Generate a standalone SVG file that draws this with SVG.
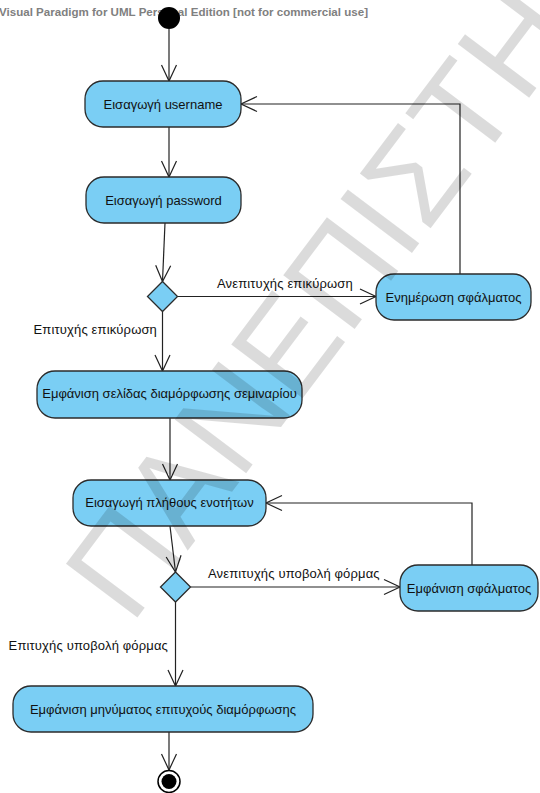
<svg xmlns="http://www.w3.org/2000/svg" width="540" height="793" viewBox="0 0 540 793">
<defs>
<style>
.node rect, .node path.dia {fill:#7ACEF4; stroke:#2b2b2b; stroke-width:1.3}
.lbl {font-family:"Liberation Sans", Arial, sans-serif; font-size:13px; fill:#111}
.elbl {font-family:"Liberation Sans", Arial, sans-serif; font-size:13px; fill:#111; letter-spacing:0.15px}
.edge {stroke:#222; stroke-width:1.2; fill:none; marker-end:url(#arr)}
.wm {font-family:"Liberation Sans", Arial, sans-serif; font-size:130px; fill:#000; fill-opacity:0.14}
</style>
<marker id="arr" markerUnits="userSpaceOnUse" viewBox="-18 -9 20 18" refX="0" refY="0" markerWidth="20" markerHeight="18" orient="auto">
<path d="M-16,-7.5 L0,0 L-16,7.5" fill="none" stroke="#222" stroke-width="1.2"/>
</marker>
</defs>
<rect width="540" height="793" fill="#fff"/>
<text x="-1" y="16" font-family="Liberation Sans, Arial, sans-serif" font-size="11.5" font-weight="bold" fill="#808080" textLength="369" lengthAdjust="spacingAndGlyphs">Visual Paradigm for UML Personal Edition [not for commercial use]</text>

<g id="edges">
<line class="edge" x1="169" y1="29" x2="169" y2="81"/>
<line class="edge" x1="169" y1="127" x2="169" y2="177"/>
<line class="edge" x1="165" y1="223" x2="162.5" y2="281.5"/>
<line class="edge" x1="177.5" y1="296.5" x2="376" y2="296.5"/>
<line class="edge" x1="162.5" y1="311.5" x2="162.5" y2="371"/>
<polyline class="edge" points="460,274 460,104 241,104"/>
<line class="edge" x1="170" y1="418" x2="170" y2="480"/>
<line class="edge" x1="170" y1="526" x2="175.5" y2="572"/>
<line class="edge" x1="190.5" y1="587" x2="400" y2="587"/>
<line class="edge" x1="175.5" y1="602" x2="175.5" y2="686"/>
<polyline class="edge" points="472,565 472,503 266,503"/>
<line class="edge" x1="169" y1="732" x2="169" y2="770"/>
<text class="elbl" x="217" y="288">Ανεπιτυχής επικύρωση</text>
<text class="elbl" x="157" y="334" text-anchor="end">Επιτυχής επικύρωση</text>
<text class="elbl" x="208" y="578">Ανεπιτυχής υποβολή φόρμας</text>
<text class="elbl" x="168" y="650" text-anchor="end">Επιτυχής υποβολή φόρμας</text>
</g>

<g id="start"><circle cx="169" cy="18" r="11" fill="#000"/></g>
<g id="n1" class="node"><rect x="85" y="81" width="156" height="46" rx="18"/><text class="lbl" x="163" y="109" text-anchor="middle">Εισαγωγή username</text></g>
<g id="n2" class="node"><rect x="86" y="177" width="155" height="46" rx="18"/><text class="lbl" x="163.5" y="205" text-anchor="middle">Εισαγωγή password</text></g>
<g id="d1" class="node"><path class="dia" d="M162.5,281.5 L177.5,296.5 L162.5,311.5 L147.5,296.5 Z"/></g>
<g id="n_err1" class="node"><rect x="376" y="274" width="155" height="46" rx="18"/><text class="lbl" x="453.5" y="302" text-anchor="middle">Ενημέρωση σφάλματος</text></g>
<g id="n3" class="node"><rect x="37" y="371" width="265" height="47" rx="18"/><text class="lbl" x="169.5" y="398" text-anchor="middle">Εμφάνιση σελίδας διαμόρφωσης σεμιναρίου</text></g>
<g id="n4" class="node"><rect x="73" y="480" width="193" height="46" rx="18"/><text class="lbl" x="169.5" y="507" text-anchor="middle">Εισαγωγή πλήθους ενοτήτων</text></g>
<g id="d2" class="node"><path class="dia" d="M175.5,572 L190.5,587 L175.5,602 L160.5,587 Z"/></g>
<g id="n_err2" class="node"><rect x="400" y="565" width="138" height="46" rx="18"/><text class="lbl" x="469" y="593" text-anchor="middle">Εμφάνιση σφάλματος</text></g>
<g id="n5" class="node"><rect x="13" y="686" width="300" height="46" rx="18"/><text class="lbl" x="163" y="714" text-anchor="middle">Εμφάνιση μηνύματος επιτυχούς διαμόρφωσης</text></g>
<g id="end"><circle cx="169" cy="781.5" r="11" fill="#fff" stroke="#000" stroke-width="1.5"/><circle cx="169" cy="781.5" r="7.5" fill="#000"/></g>

<text class="wm" transform="translate(131,626) rotate(-53)">ΠΑΝΕΠΙΣΤΗΜΙΟ</text>
</svg>
